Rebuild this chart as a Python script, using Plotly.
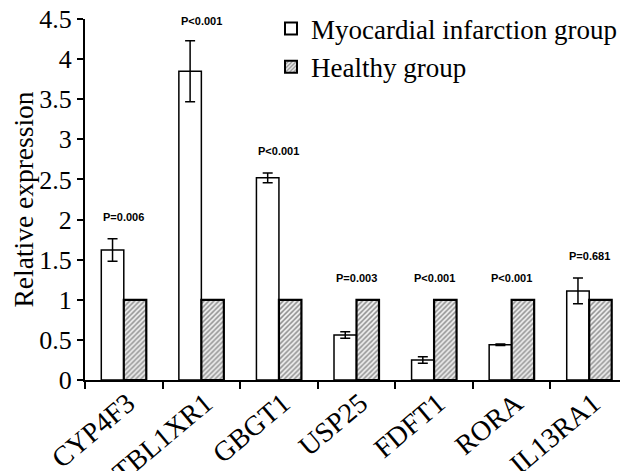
import plotly.graph_objects as go

genes = ["CYP4F3", "TBL1XR1", "GBGT1", "USP25", "FDFT1", "RORA", "IL13RA1"]
mi_values = [1.62, 3.85, 2.52, 0.56, 0.25, 0.44, 1.11]
mi_errors = [0.14, 0.38, 0.06, 0.04, 0.04, 0.01, 0.16]
healthy_values = [1, 1, 1, 1, 1, 1, 1]
p_labels = ["P=0.006", "P<0.001", "P<0.001", "P=0.003", "P<0.001", "P<0.001", "P=0.681"]
y_ticks = [0, 0.5, 1, 1.5, 2, 2.5, 3, 3.5, 4, 4.5]
y_tick_text = ["0", "0.5", "1", "1.5", "2", "2.5", "3", "3.5", "4", "4.5"]

serif = "Liberation Serif"

fig = go.Figure()
fig.add_trace(go.Bar(
    x=genes, y=mi_values, name="Myocardial infarction group",
    marker=dict(color="white", line=dict(color="black", width=1.5)),
    error_y=dict(type="data", array=mi_errors, color="black", thickness=1.5, width=5),
))
fig.add_trace(go.Bar(
    x=genes, y=healthy_values, name="Healthy group",
    marker=dict(color="white", line=dict(color="black", width=2.2),
                pattern=dict(shape="/", fgcolor="#333333", bgcolor="#f0f0f0", size=3.5, solidity=0.45)),
))

for g, v, e, h, p in zip(genes, mi_values, mi_errors, healthy_values, p_labels):
    top = max(v + e, h)
    fig.add_annotation(x=g, y=min(top, 4.2), text="<b>" + p + "</b>", showarrow=False,
                       yanchor="bottom", yshift=14,
                       font=dict(family="Liberation Sans", size=11, color="black"))

# page is shown with an 8px body margin, so the figure is sized to fit the window
fig.update_layout(
    width=620, height=463,
    margin=dict(l=77, r=0, t=11, b=91, autoexpand=False),
    plot_bgcolor="white", paper_bgcolor="white",
    barmode="group", bargap=0.42, bargroupgap=0,
    showlegend=True,
    legend=dict(x=0.3425, y=1.04, xanchor="left", yanchor="top",
                font=dict(family=serif, size=27, color="black"),
                bgcolor="rgba(0,0,0,0)", tracegroupgap=0, itemsizing="constant",
                itemwidth=30),
    font=dict(family=serif, color="black"),
)
fig.update_xaxes(
    showline=True, linecolor="black", linewidth=2, automargin=False,
    ticks="outside", tickson="boundaries", ticklen=7, tickwidth=2, tickcolor="black",
    tickangle=-40, tickfont=dict(family=serif, size=28, color="black"),
    ticklabeloverflow="allow", ticklabelstandoff=-6, ticklabelshift=4,
    showgrid=False,
)
fig.update_yaxes(
    range=[0, 4.5], tickvals=y_ticks, ticktext=y_tick_text, automargin=False,
    showline=True, linecolor="black", linewidth=2,
    ticks="outside", ticklen=6, tickwidth=2, tickcolor="black",
    tickfont=dict(family=serif, size=26, color="black"),
    ticklabeloverflow="allow",
    title=dict(text="Relative expression", font=dict(family=serif, size=27.5, color="black"), standoff=8),
    showgrid=False, zeroline=False,
)

fig.write_html("out.html")
